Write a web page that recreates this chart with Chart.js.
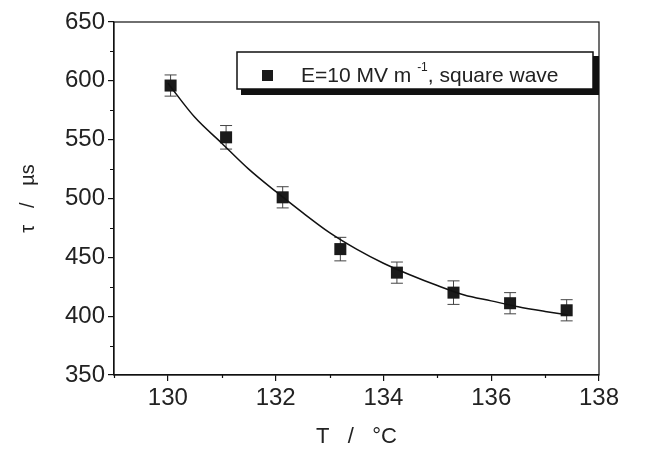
<!DOCTYPE html>
<html>
<head>
<meta charset="utf-8">
<script src="https://cdn.jsdelivr.net/npm/chart.js@4.4.1/dist/chart.umd.min.js"></script>
<style>
	html, body { margin: 0; padding: 0; background: #fff; }
	#box { width: 648px; height: 452px; }
</style>
</head>
<body>
<div id="box"><canvas id="myChart" width="648" height="452"></canvas></div>
<script>
// measured points (temperature, relaxation time, error)
let temps = [130.05, 131.08, 132.13, 133.2, 134.25, 135.3, 136.35, 137.4];
let taus = [596, 552, 501, 457, 437, 420, 411, 405];
let errs = [9, 10, 9, 10, 9, 10, 9, 9];

// fitted curve
let fitT = [130, 130.5, 131, 131.5, 132, 132.5, 133, 133.5, 134, 134.5, 135, 135.5, 136, 136.5, 137, 137.42];
let fitTau = [598, 569, 547, 525, 506, 488, 471, 457, 445, 435, 426, 418, 413, 408, 404, 401];

// tick labels
let xTicks = [130, 132, 134, 136, 138];
let xMinor = [129, 131, 133, 135, 137];
let yTicks = [350, 400, 450, 500, 550, 600, 650];
let yMinor = [375, 425, 475, 525, 575, 625];

const font = "'Liberation Sans', Arial, sans-serif";

let points = temps.map((t, i) => ({ x: t, y: taus[i] }));
let fit = fitT.map((t, i) => ({ x: t, y: fitTau[i] }));

// error bars under the squares
const errorBars = {
	id: 'errorBars',
	beforeDatasetsDraw(chart) {
		const ctx = chart.ctx;
		const xs = chart.scales.x, ys = chart.scales.y;
		ctx.save();
		ctx.strokeStyle = '#444';
		ctx.lineWidth = 1;
		for (let i = 0; i < temps.length; i++) {
			let px = xs.getPixelForValue(temps[i]);
			let top = ys.getPixelForValue(taus[i] + errs[i]);
			let bot = ys.getPixelForValue(taus[i] - errs[i]);
			ctx.beginPath();
			ctx.moveTo(px, top); ctx.lineTo(px, bot);
			ctx.moveTo(px - 6, top); ctx.lineTo(px + 6, top);
			ctx.moveTo(px - 6, bot); ctx.lineTo(px + 6, bot);
			ctx.stroke();
		}
		ctx.restore();
	}
};

// frame, minor ticks and the boxed legend
const frame = {
	id: 'frame',
	afterDraw(chart) {
		const ctx = chart.ctx;
		const a = chart.chartArea;
		const xs = chart.scales.x, ys = chart.scales.y;
		ctx.save();
		ctx.strokeStyle = '#111';
		ctx.lineWidth = 1.2;
		ctx.strokeRect(a.left, a.top, a.right - a.left, a.bottom - a.top);

		ctx.beginPath();
		xMinor.forEach(v => {
			let px = Math.round(xs.getPixelForValue(v)) + 0.5;
			ctx.moveTo(px, a.bottom); ctx.lineTo(px, a.bottom + 3);
		});
		yMinor.forEach(v => {
			let py = Math.round(ys.getPixelForValue(v)) + 0.5;
			ctx.moveTo(a.left, py); ctx.lineTo(a.left - 4, py);
		});
		ctx.stroke();

		// legend shadow + box
		ctx.fillStyle = '#111';
		ctx.fillRect(241, 56, 358, 39);
		ctx.fillStyle = '#fff';
		ctx.fillRect(237, 52, 356, 37);
		ctx.lineWidth = 1.5;
		ctx.strokeRect(237, 52, 356, 37);

		ctx.fillStyle = '#1a1a1a';
		ctx.fillRect(262, 70, 11, 11);

		ctx.fillStyle = '#222';
		ctx.textBaseline = 'alphabetic';
		ctx.font = '21px ' + font;
		let x = 301;
		ctx.fillText('E=10 MV m', x, 82);
		x += ctx.measureText('E=10 MV m ').width;
		ctx.font = '12px ' + font;
		ctx.fillText('-1', x, 71);
		x += ctx.measureText('-1').width;
		ctx.font = '21px ' + font;
		ctx.fillText(', square wave', x, 82);
		ctx.restore();
	}
};

const myChart = document.getElementById('myChart');

let chart = new Chart(myChart, {
	type: 'scatter',
	data: {
		datasets: [
			{
				label: 'fit',
				type: 'line',
				data: fit,
				borderColor: '#111',
				borderWidth: 1.5,
				pointRadius: 0,
				cubicInterpolationMode: 'monotone',
				fill: false
			},
			{
				label: 'E=10 MV m-1, square wave',
				data: points,
				pointStyle: 'rect',
				pointRadius: 8.5,
				pointHoverRadius: 8.5,
				backgroundColor: '#1a1a1a',
				borderColor: '#1a1a1a',
				borderWidth: 0
			}
		]
	},
	options: {
		responsive: false,
		animation: false,
		layout: { padding: { left: 0, top: 22, right: 49, bottom: 0 } },
		plugins: {
			legend: { display: false },
			tooltip: { enabled: false }
		},
		scales: {
			x: {
				type: 'linear',
				min: 129,
				max: 138,
				afterBuildTicks: s => { s.ticks = xTicks.map(v => ({ value: v })); },
				afterFit: s => { s.height = 77; },
				grid: { drawOnChartArea: false, tickLength: 6, color: '#111', lineWidth: 1.2 },
				border: { display: true, color: '#111', width: 1.2 },
				ticks: { color: '#222', padding: 3, font: { family: font, size: 24 } },
				title: {
					display: true,
					text: 'T   /   °C',
					color: '#222',
					font: { family: font, size: 22 },
					padding: { top: 0, bottom: 2 }
				}
			},
			y: {
				min: 350,
				max: 650,
				afterBuildTicks: s => { s.ticks = yTicks.map(v => ({ value: v })); },
				afterFit: s => { s.width = 114; },
				grid: { drawOnChartArea: false, tickLength: 6, color: '#111', lineWidth: 1.2 },
				border: { display: true, color: '#111', width: 1.2 },
				ticks: { color: '#222', padding: 3, font: { family: font, size: 24 } },
				title: {
					display: true,
					text: 'τ   /   µs',
					color: '#222',
					font: { family: font, size: 20 },
					padding: { top: 16, bottom: 0 }
				}
			}
		}
	},
	plugins: [errorBars, frame]
});
</script>
</body>
</html>
